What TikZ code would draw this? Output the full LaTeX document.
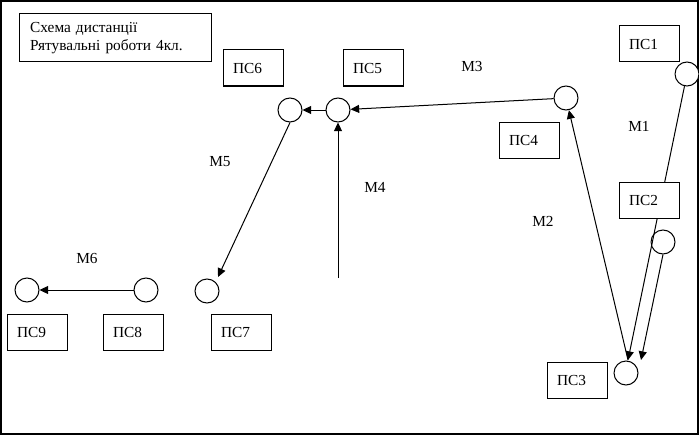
\documentclass[tikz,border=0pt]{standalone}
\usepackage{fontspec}
\setmainfont{Liberation Serif}
\usetikzlibrary{arrows.meta}
\begin{document}
\begin{tikzpicture}[x=0.75pt,y=-0.75pt,
  every node/.style={font=\fontsize{11.5}{13.5}\selectfont},
  psbox/.style={draw, fill=white, line width=0.75pt, minimum height=27pt, text width=30pt, inner xsep=7.5pt, inner ysep=0pt, align=left},
  titlebox/.style={draw, fill=white, line width=0.75pt, minimum height=36pt, text width=128pt, inner xsep=8.25pt, inner ysep=0pt, align=left},
  pt/.style={draw, circle, fill=white, line width=0.75pt, minimum size=18pt, inner sep=0pt},
  link/.style={line width=0.75pt, -{Triangle[length=6.5pt,width=6pt]}},
  lbl/.style={inner sep=0pt}]
\useasboundingbox (0,0) rectangle (699,435);
\draw[line width=1.5pt] (1,1) rectangle (697.5,433.5);
% points
\node[pt] (c1) at (687,74) {};
\node[pt] (c2) at (663,242) {};
\node[pt] (c3) at (626,373) {};
\node[pt] (c4) at (566,98) {};
\node[pt] (c5) at (338,110) {};
\node[pt] (c6) at (290,110) {};
\node[pt] (c7) at (207,291) {};
\node[pt] (c8) at (146,290) {};
\node[pt] (c9) at (27,290) {};
\coordinate (c3l) at (628,360);
\coordinate (c3r) at (641,360);
\coordinate (c7t) at (218,277);
\coordinate (m4s) at (338,278);
% connectors
\draw[link] (c1) -- (c3l);
\draw[link] (c2.south) -- (c3r);
\draw[link] (c3l) -- (c4);
\draw[link] (c4) -- (c5);
\draw[link] (m4s) -- (c5);
\draw[link] (c5) -- (c6);
\draw[link] (c6.south) -- (c7t);
\draw[link] (c8) -- (c9);
% boxes
\node[titlebox] (title) at (115.5,38) {Схема дистанції\\Рятувальні роботи 4кл.};
\node[psbox] (p1) at (649,44) {ПС1};
\node[psbox] (p2) at (649,200) {ПС2};
\node[psbox] (p3) at (577,380) {ПС3};
\node[psbox] (p4) at (529,140) {ПС4};
\node[psbox] (p5) at (373,68) {ПС5};
\node[psbox] (p6) at (253,68) {ПС6};
\node[psbox] (p7) at (241,332) {ПС7};
\node[psbox] (p8) at (133,332) {ПС8};
\node[psbox] (p9) at (37,332) {ПС9};
% labels
\node[lbl] (m1) at (639,126) {М1};
\node[lbl] (m2) at (543,221) {М2};
\node[lbl] (m3) at (472,66) {М3};
\node[lbl] (m4) at (375,187) {М4};
\node[lbl] (m5) at (220,162) {М5};
\node[lbl] (m6) at (87,258) {М6};
\end{tikzpicture}
\end{document}
